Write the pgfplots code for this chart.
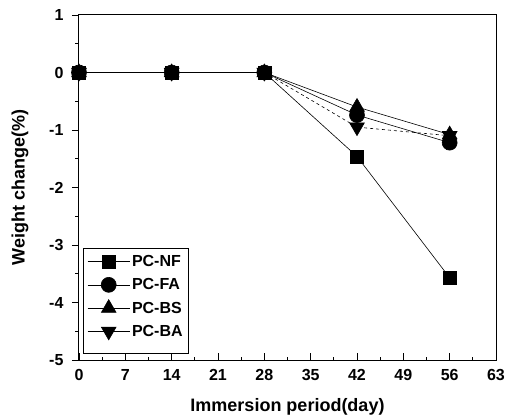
\documentclass[border=0pt]{standalone}
\usepackage{fontspec}
\setmainfont{Liberation Sans}
\usepackage{pgfplots}
\pgfplotsset{compat=1.18}
\begin{document}
\begin{tikzpicture}
\begin{axis}[
  scale only axis, width=417pt, height=345pt,
  xmin=0, xmax=63, ymin=-5, ymax=1,
  xtick={0,7,...,63}, ytick={-5,-4,...,1},
  minor x tick num=1, minor y tick num=1,
  tick pos=left, tick align=inside,
  major tick length=7pt, minor tick length=3.5pt,
  major y tick style={xshift=-7pt},
  minor y tick style={xshift=-3.5pt},
  axis line style={line width=1pt}, every tick/.style={line width=0.8pt, black},
  /pgf/number format/assume math mode=true,
  ticklabel style={font=\bfseries\fontsize{16}{18}\selectfont},
  xticklabel style={yshift=-6pt},
  yticklabel style={xshift=-12pt},
  xlabel={Immersion period(day)}, ylabel={Weight change(\%)},
  label style={font=\bfseries\fontsize{18}{20}\selectfont},
  xlabel style={at={([yshift=-47pt]rel axis cs:0.5,0)}, anchor=center},
  ylabel style={at={([xshift=-59pt]rel axis cs:0,0.5)}, anchor=center, rotate=0},
  legend style={at={(rel axis cs:0.01,0.02)}, anchor=south west, draw=black, line width=0.5pt,
    font=\bfseries\fontsize{16}{18}\selectfont, row sep=6.5pt, inner xsep=4pt, inner ysep=5pt},
  legend cell align=left,
  legend image code/.code={\draw[#1, solid, line width=0.6pt] (0pt,0pt) -- (42pt,0pt); \draw[#1, solid] plot coordinates {(21pt,0pt)};},
]
\addplot[black, line width=0.6pt, mark=square*, mark size=6.5pt] coordinates {(0,0) (14,0) (28,0) (42,-1.46) (56,-3.57)};
\addlegendentry{PC-NF}
\addplot[black, line width=0.6pt, mark=*, mark size=7.5pt] coordinates {(0,0) (14,0) (28,0) (42,-0.74) (56,-1.22)};
\addlegendentry{PC-FA}
\addplot[black, line width=0.6pt, mark=triangle*, mark size=8.5pt] coordinates {(0,0) (14,0) (28,0) (42,-0.6) (56,-1.08)};
\addlegendentry{PC-BS}
\addplot[black, line width=0.6pt, dashed, mark=triangle*, mark options={rotate=180, solid}, mark size=8.5pt] coordinates {(0,0) (14,0) (28,0) (42,-0.95) (56,-1.1)};
\addlegendentry{PC-BA}
\addlegendimage{empty legend}
\addlegendentry[font=\fontsize{2}{2}\selectfont, inner sep=0pt]{}
\coordinate (ll) at (rel axis cs:0,0);
\coordinate (ur) at (rel axis cs:1,1);
\end{axis}
\pgfresetboundingbox
\path[use as bounding box] ([shift={(-79pt,-58pt)}]ll) rectangle ([shift={(17pt,15pt)}]ur);
\end{tikzpicture}
\end{document}
